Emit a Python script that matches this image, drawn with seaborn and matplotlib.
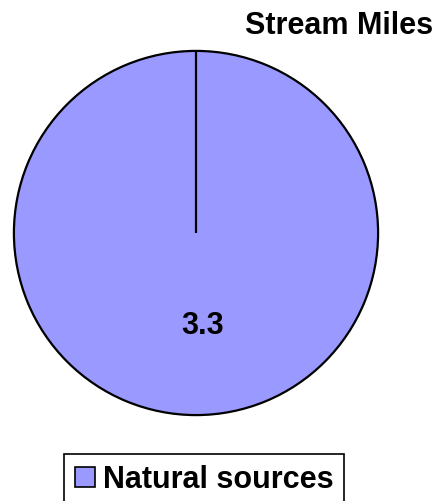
import numpy as np
import matplotlib
matplotlib.use("Agg")
import matplotlib.pyplot as plt
from matplotlib.patches import Patch
import seaborn as sns

# Stream miles by source
categories = ["Natural sources"]
stream_miles = [3.3]
slice_colors = ["#9999FF"]
title_text = "Stream Miles"

sns.set_theme(style="white")
plt.rcParams["font.family"] = ["Liberation Sans", "DejaVu Sans"]
plt.rcParams["font.weight"] = "bold"
plt.rcParams["text.color"] = "black"

W, H = 441, 501
FS = 22
fig = plt.figure(figsize=(W / 100, H / 100), dpi=100)
fig.patch.set_facecolor("white")

# pie occupies a square region in pixel terms
left, right, top, bottom = 13, 379, 50, 416
ax = fig.add_axes([left / W, 1 - bottom / H, (right - left) / W, (bottom - top) / H])

start = 90
wedges, texts, autotexts = ax.pie(
    stream_miles,
    colors=slice_colors,
    startangle=start,
    counterclock=False,
    autopct=lambda p: f"{p * sum(stream_miles) / 100:.1f}",
    pctdistance=0.51,
    radius=1.0,
    wedgeprops=dict(edgecolor="black", linewidth=1.6),
    textprops=dict(fontsize=FS, fontweight="bold", color="black"),
)
# value label sits slightly right of the centre line
for t in autotexts:
    x, y = t.get_position()
    t.set_position((x + 0.035, y))

# wedge boundary at the start angle (full-circle wedge has no radial edge)
a = np.deg2rad(start)
ax.plot([0, np.cos(a)], [0, np.sin(a)], color="black", lw=1.6, solid_capstyle="butt")
ax.set_xlim(-1.005, 1.005)
ax.set_ylim(-1.005, 1.005)
ax.set_aspect("equal")
ax.axis("off")

fig.text(433 / W, 1 - 11 / H, title_text, ha="right", va="top",
         fontsize=FS, fontweight="bold", color="black")

handles = [Patch(facecolor=c, edgecolor="black", linewidth=1.2) for c in slice_colors]
leg = fig.legend(
    handles, categories,
    loc="upper left", bbox_to_anchor=(64 / W, 1 - 454 / H),
    frameon=True, fancybox=False, edgecolor="black", framealpha=1,
    prop=dict(size=FS, weight="bold"),
    labelcolor="black",
    handlelength=0.65, handleheight=0.65, handletextpad=0.28,
    borderpad=0.35, borderaxespad=0,
)
leg.get_frame().set_linewidth(1.2)

fig.savefig("out.png", dpi=100)
